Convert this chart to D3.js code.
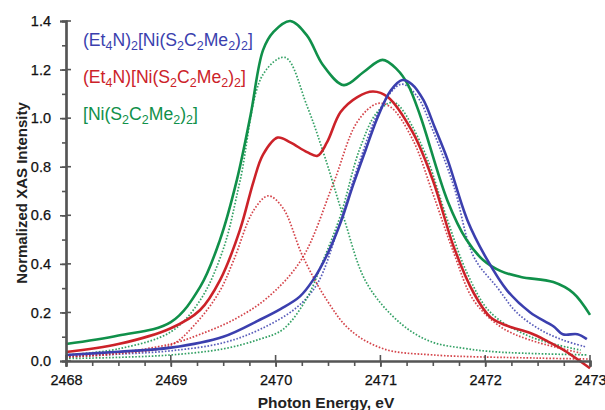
<!DOCTYPE html>
<html>
<head>
<meta charset="utf-8">
<script src="https://cdn.jsdelivr.net/npm/d3@7"></script>
<style>
  body { margin: 0; background: #fff; }
  svg { font-family: "Liberation Sans", Arial, sans-serif; }
</style>
</head>
<body>
<svg width="605" height="410"></svg>
<script>
const width = 605;
const height = 410;
const margin = {left: 66, right: 15, top: 21, bottom: 49};

const xTicks = [2468, 2469, 2470, 2471, 2472, 2473];
const yTicks = [0, 0.2, 0.4, 0.6, 0.8, 1.0, 1.2, 1.4];

// solid spectra [energy, intensity]
const blueSolid = [[2468, 0.025], [2468.5, 0.038], [2469, 0.055], [2469.5, 0.1], [2469.85, 0.17], [2470.05, 0.215],
  [2470.23, 0.265], [2470.36, 0.335], [2470.5, 0.445], [2470.62, 0.57], [2470.74, 0.725], [2470.86, 0.87],
  [2470.97, 1.0], [2471.1, 1.115], [2471.21, 1.157], [2471.3, 1.14], [2471.41, 1.075], [2471.52, 0.96],
  [2471.64, 0.83], [2471.83, 0.58], [2472.02, 0.416], [2472.21, 0.29], [2472.43, 0.2], [2472.6, 0.156],
  [2472.66, 0.14], [2472.74, 0.11], [2472.88, 0.11], [2472.97, 0.09]];
const redSolid = [[2468, 0.037], [2468.5, 0.07], [2469, 0.135], [2469.28, 0.21], [2469.47, 0.333], [2469.66, 0.54],
  [2469.79, 0.74], [2469.88, 0.85], [2470.02, 0.92], [2470.14, 0.9], [2470.3, 0.86], [2470.4, 0.845],
  [2470.49, 0.9], [2470.62, 1.025], [2470.78, 1.087], [2470.93, 1.11], [2471.07, 1.087], [2471.31, 0.94],
  [2471.5, 0.745], [2471.7, 0.47], [2471.89, 0.28], [2472.05, 0.18], [2472.21, 0.145], [2472.43, 0.115],
  [2472.6, 0.08], [2472.75, 0.045], [2472.93, -0.008], [2473, -0.03]];
const greenSolid = [[2468, 0.07], [2468.5, 0.105], [2469, 0.16], [2469.28, 0.305], [2469.47, 0.5], [2469.63, 0.745],
  [2469.76, 1.01], [2469.88, 1.28], [2469.98, 1.355], [2470.14, 1.4], [2470.3, 1.34], [2470.45, 1.22],
  [2470.65, 1.136], [2470.84, 1.19], [2471.02, 1.24], [2471.16, 1.2], [2471.26, 1.14], [2471.38, 1.01],
  [2471.64, 0.66], [2471.82, 0.5], [2471.98, 0.416], [2472.15, 0.37], [2472.34, 0.346], [2472.65, 0.325],
  [2472.84, 0.28], [2473, 0.19]];

// fitted components (dotted)
const blueFit = [[2468, 0.018], [2468.5, 0.028], [2469, 0.042], [2469.5, 0.075], [2469.85, 0.13], [2470.2, 0.22],
  [2470.4, 0.32], [2470.6, 0.55], [2470.8, 0.82], [2471, 1.04], [2471.2, 1.14], [2471.35, 1.09],
  [2471.5, 0.95], [2471.7, 0.72], [2471.89, 0.43], [2472.12, 0.3], [2472.3, 0.2], [2472.53, 0.128],
  [2472.75, 0.085], [2472.96, 0.058]];
const redFit1 = [[2468, 0.015], [2468.5, 0.03], [2469, 0.065], [2469.25, 0.16], [2469.47, 0.29], [2469.6, 0.415],
  [2469.79, 0.62], [2469.93, 0.68], [2470.07, 0.63], [2470.26, 0.43], [2470.49, 0.25], [2470.71, 0.128],
  [2471.03, 0.05], [2471.5, 0.025], [2472.5, 0.012], [2473, 0.008]];
const redFit2 = [[2468, 0.02], [2468.5, 0.035], [2469, 0.07], [2469.28, 0.11], [2469.6, 0.17], [2469.92, 0.26],
  [2470.25, 0.42], [2470.55, 0.73], [2470.78, 0.985], [2470.97, 1.06], [2471.1, 1.045], [2471.31, 0.91],
  [2471.5, 0.69], [2471.7, 0.445], [2471.89, 0.25], [2472.15, 0.14], [2472.43, 0.086], [2472.91, 0.033]];
const greenFit1 = [[2468, 0.025], [2468.5, 0.05], [2469, 0.12], [2469.28, 0.25], [2469.5, 0.46], [2469.66, 0.74],
  [2469.88, 1.18], [2470.09, 1.25], [2470.3, 1.05], [2470.47, 0.84], [2470.65, 0.59], [2470.87, 0.32],
  [2471.19, 0.156], [2471.48, 0.08], [2471.8, 0.052], [2472.12, 0.037], [2472.98, 0.025]];
const greenFit2 = [[2468, 0.01], [2468.5, 0.015], [2469, 0.025], [2469.5, 0.05], [2469.85, 0.09], [2470.07, 0.13],
  [2470.3, 0.26], [2470.45, 0.41], [2470.62, 0.6], [2470.8, 0.87], [2470.97, 1.025], [2471.12, 1.066],
  [2471.19, 1.045], [2471.3, 0.97], [2471.45, 0.83], [2471.64, 0.58], [2471.83, 0.36], [2472.05, 0.2],
  [2472.43, 0.1], [2472.91, 0.045]];

const blue = '#3b3fae';
const red = '#cc2229';
const green = '#10904a';

const svg = d3.select('svg');

const xScale = d3.scaleLinear()
                    .domain([2468, 2473])
                    .range([margin.left, width - margin.right]);
const yScale = d3.scaleLinear()
                    .domain([0, 1.4])
                    .range([height - margin.bottom, margin.top]);

const line = d3.line()
                .x(d => xScale(d[0]))
                .y(d => yScale(d[1]))
                .curve(d3.curveCatmullRom.alpha(0.5));

const fits = [
  [blueFit, blue], [redFit1, red], [redFit2, red], [greenFit1, green], [greenFit2, green]
];
fits.forEach(([data, color]) => {
  svg.append('path')
      .attr('d', line(data))
      .attr('fill', 'none')
      .attr('stroke', color)
      .attr('stroke-width', 1.7)
      .attr('stroke-dasharray', '1.6,1.7')
      .attr('opacity', 0.85);
});

const solids = [[greenSolid, green], [redSolid, red], [blueSolid, blue]];
solids.forEach(([data, color]) => {
  svg.append('path')
      .attr('d', line(data))
      .attr('fill', 'none')
      .attr('stroke', color)
      .attr('stroke-width', 2.6)
      .attr('stroke-linejoin', 'round');
});

// axes
const axisColor = '#555';
const xAxis = d3.axisBottom(xScale)
                .tickValues(d3.range(2468, 2473.01, 0.25))
                .tickSize(5)
                .tickFormat('');
const xMajor = d3.axisBottom(xScale)
                .tickValues(xTicks)
                .tickSize(6)
                .tickPadding(8)
                .tickFormat(d3.format('d'));
const yAxis = d3.axisLeft(yScale)
                .tickValues(d3.range(0, 1.401, 0.1))
                .tickSize(4)
                .tickFormat('');
const yMajor = d3.axisLeft(yScale)
                .tickValues(yTicks)
                .tickSize(6)
                .tickPadding(9)
                .tickFormat(d3.format('.1f'));

[[xAxis, 'x'], [xMajor, 'x'], [yAxis, 'y'], [yMajor, 'y']].forEach(([ax, dir]) => {
  const g = svg.append('g')
      .attr('transform', dir === 'x' ? 'translate(0,' + (height - margin.bottom) + ')' : 'translate(' + margin.left + ',0)')
      .call(ax);
  g.select('.domain').attr('stroke', axisColor).attr('stroke-width', 2.2);
  g.selectAll('.tick line').attr('stroke', axisColor).attr('stroke-width', 1.6);
  g.selectAll('.tick text').attr('fill', '#111').attr('font-size', '14.5px')
      .attr('stroke', '#111').attr('stroke-width', 0.25)
      .attr('font-family', '"Liberation Sans", Arial, sans-serif');
});
// major ticks also reach inside the plot
svg.append('g').selectAll('line').data(xTicks).enter().append('line')
    .attr('x1', d => xScale(d)).attr('x2', d => xScale(d))
    .attr('y1', yScale(0)).attr('y2', yScale(0) - 6)
    .attr('stroke', axisColor).attr('stroke-width', 1.6);
svg.append('g').selectAll('line').data(yTicks).enter().append('line')
    .attr('x1', xScale(2468)).attr('x2', xScale(2468) + 5)
    .attr('y1', d => yScale(d)).attr('y2', d => yScale(d))
    .attr('stroke', axisColor).attr('stroke-width', 1.6);

svg.append('text')
    .text('Photon Energy, eV')
    .attr('x', 326)
    .attr('y', 408)
    .attr('text-anchor', 'middle')
    .attr('font-weight', 'bold')
    .attr('font-size', '15.5px')
    .attr('fill', '#222');
svg.append('text')
    .text('Normalized XAS Intensity')
    .attr('transform', 'translate(27,193) rotate(-90)')
    .attr('text-anchor', 'middle')
    .attr('font-weight', 'bold')
    .attr('font-size', '15px')
    .attr('fill', '#222');

// legend with subscripts
const legend = [
  [[['(Et', 0], ['4', 1], ['N)', 0], ['2', 1], ['[Ni(S', 0], ['2', 1], ['C', 0], ['2', 1], ['Me', 0], ['2', 1], [')', 0], ['2', 1], [']', 0]], blue, 46],
  [[['(Et', 0], ['4', 1], ['N)[Ni(S', 0], ['2', 1], ['C', 0], ['2', 1], ['Me', 0], ['2', 1], [')', 0], ['2', 1], [']', 0]], red, 83],
  [[['[Ni(S', 0], ['2', 1], ['C', 0], ['2', 1], ['Me', 0], ['2', 1], [')', 0], ['2', 1], [']', 0]], green, 120]
];
legend.forEach(([parts, color, y]) => {
  const t = svg.append('text')
      .attr('x', 83)
      .attr('y', y)
      .attr('fill', color)
      .attr('font-size', '17.6px');
  let sub = 0;
  parts.forEach(([s, isSub]) => {
    t.append('tspan')
        .text(s)
        .attr('font-size', isSub ? '12.5px' : '17.6px')
        .attr('dy', isSub === sub ? 0 : (isSub ? 4 : -4));
    sub = isSub;
  });
});
</script>
</body>
</html>
